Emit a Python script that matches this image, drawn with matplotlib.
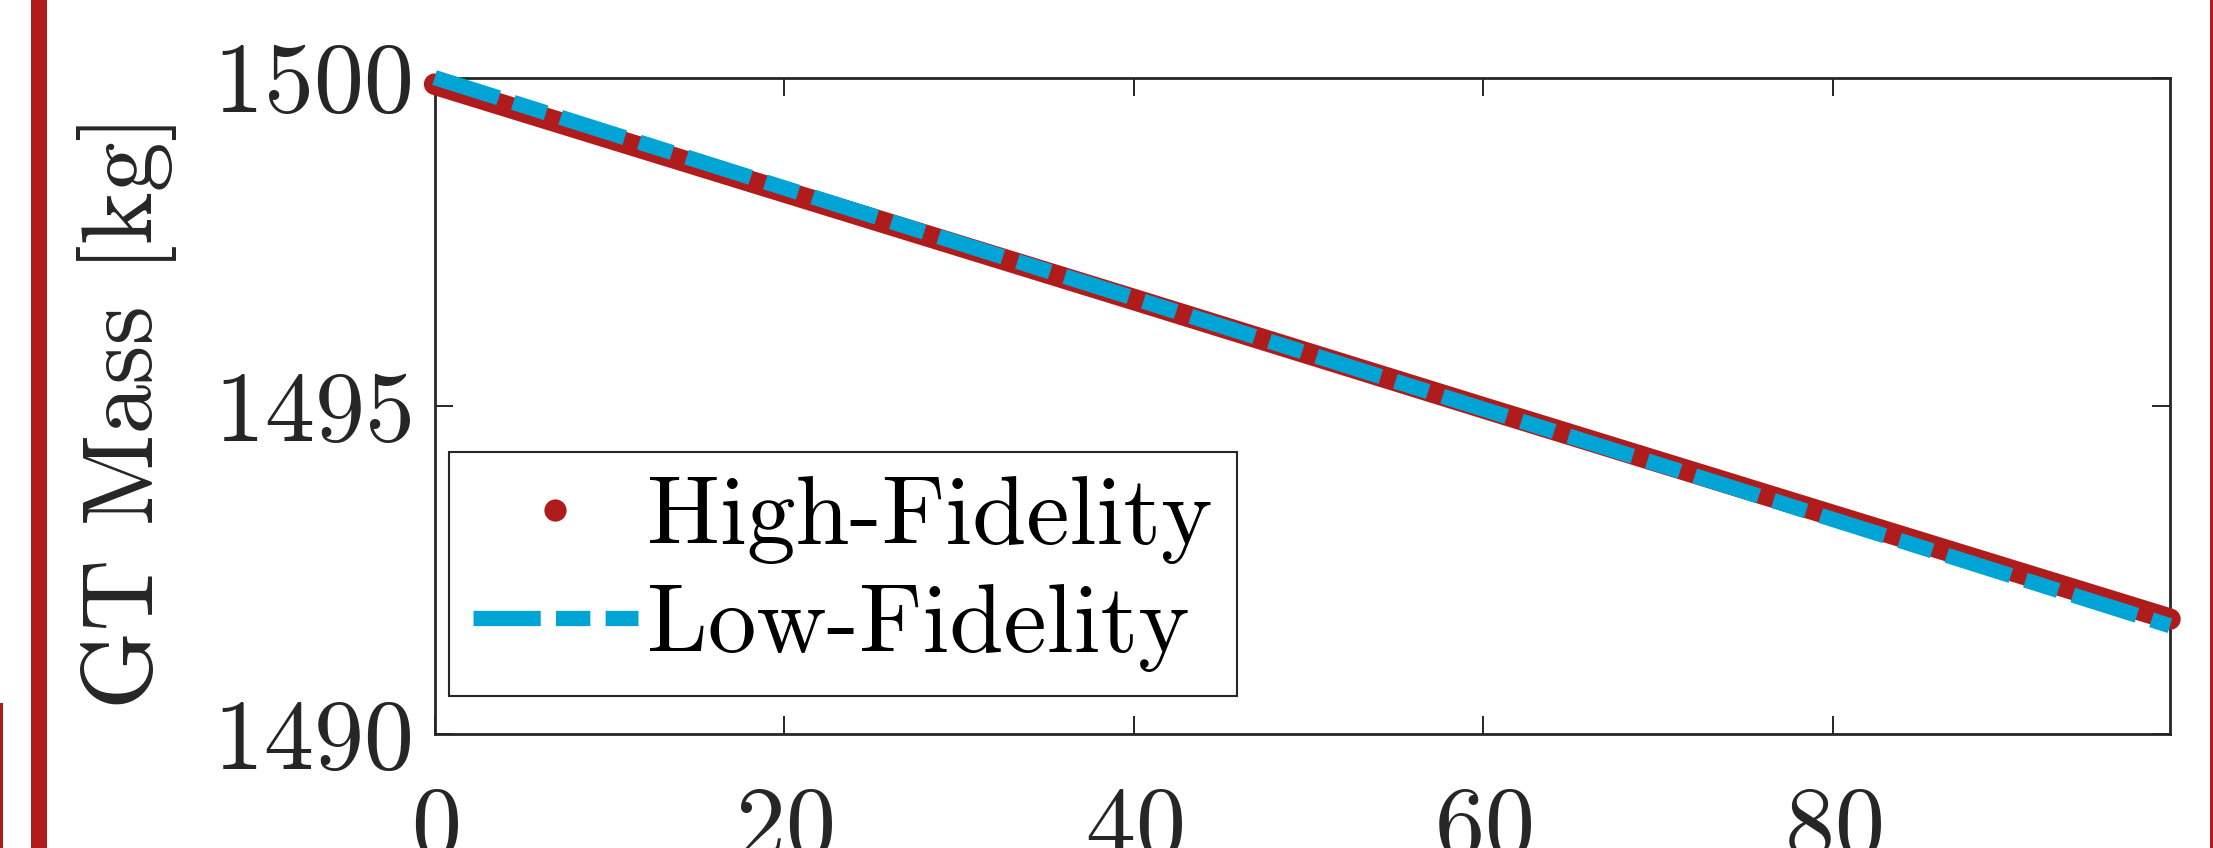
import matplotlib
matplotlib.use("Agg")
import matplotlib.pyplot as plt
from matplotlib.lines import Line2D
from matplotlib.patches import Rectangle

# ---- data ----
time_s = [0, 20, 40, 60, 80, 99.3]
high_fidelity = [1499.90, 1498.26, 1496.62, 1494.97, 1493.33, 1491.75]
low_fidelity = [1500.00, 1498.32, 1496.64, 1494.95, 1493.27, 1491.65]
xticks = [0, 20, 40, 60, 80]
yticks = [1490, 1495, 1500]
ylabel = "GT Mass [kg]"
labels = ["High-Fidelity", "Low-Fidelity"]

RED = "#B01C1C"
BLUE = "#00A5D5"
DARK = "#262626"
DASH = [4.4, 1.0, 2.25, 1.0]

plt.rcParams["font.family"] = "serif"
plt.rcParams["font.serif"] = ["cmr10"]
plt.rcParams["mathtext.fontset"] = "cm"
plt.rcParams["axes.formatter.use_mathtext"] = True

W, H = 2213, 848
fig = plt.figure(figsize=(W / 100, H / 100), dpi=100)
L, R, T, B = 434.6, 2170, 77.6, 734
ax = fig.add_axes([L / W, (H - B) / H, (R - L) / W, (B - T) / H])

ax.plot(time_s, high_fidelity, color=RED, lw=15.5, solid_capstyle="round",
        solid_joinstyle="round", clip_on=False, zorder=3)
ax.plot(time_s, low_fidelity, color=BLUE, lw=11, dashes=DASH,
        dash_capstyle="butt", clip_on=False, zorder=4)

ax.set_xlim(time_s[0], time_s[-1])
ax.set_ylim(yticks[0], yticks[-1])
ax.set_xticks(xticks)
ax.set_yticks(yticks)
ax.tick_params(axis="both", which="both", direction="in", length=13, width=1.4,
               color=DARK, labelcolor=DARK, labelsize=72, top=True, right=True)
ax.tick_params(axis="y", pad=17)
ax.tick_params(axis="x", pad=38)
for s in ax.spines.values():
    s.set_linewidth(2.0)
    s.set_color(DARK)

fig.text(127 / W, 1 - 411 / H, ylabel, rotation=90, ha="center", va="center",
         fontsize=72, color=DARK)

handles = [
    Line2D([], [], color=RED, marker="o", markersize=16, markeredgewidth=0, linestyle="none"),
    Line2D([], [], color=BLUE, lw=11, dashes=DASH, dash_capstyle="butt"),
]
leg = ax.legend(handles, labels, loc="upper left",
                bbox_to_anchor=(449 / W, 1 - 452 / H), bbox_transform=fig.transFigure,
                borderaxespad=0, fontsize=70, borderpad=0.25, labelspacing=0.2,
                handlelength=1.69, handletextpad=0.1, fancybox=False, framealpha=1,
                edgecolor=DARK)
leg.get_frame().set_linewidth(1.5)
leg.set_zorder(5)

# decorations from the surrounding layout
fig.add_artist(Rectangle((31 / W, 0), 16 / W, 1, transform=fig.transFigure,
                         color=RED, lw=0))
fig.add_artist(Rectangle((2210 / W, 0), 3 / W, 1, transform=fig.transFigure,
                         color=RED, lw=0))
fig.add_artist(Rectangle((0, 0), 2.5 / W, (H - 703) / H, transform=fig.transFigure,
                         color=RED, lw=0))

fig.savefig("out.png", dpi=100)
